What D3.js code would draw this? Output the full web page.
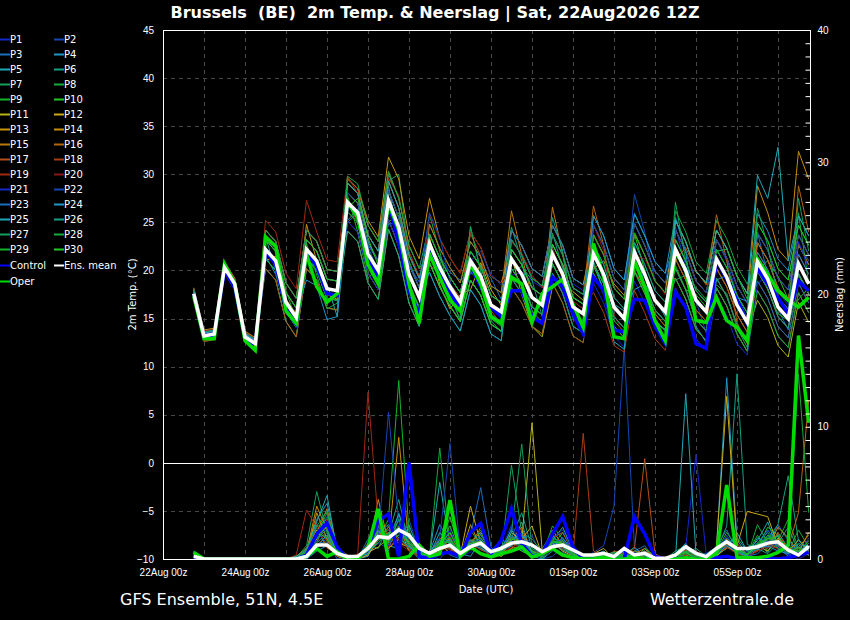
<!DOCTYPE html>
<html lang="nl">
<meta charset="utf-8">
<style>
body { margin: 0; background: #000; }
svg { display: block; background: #000; font-family: "DejaVu Sans", sans-serif; }
.grid line { stroke: #484848; stroke-width: 1px; stroke-dasharray: 4,4; }
.axis text { fill: #fff; font-size: 10px; }
.axis path { display: none; }
.axis line { stroke: #fff; }
.legend text { fill: #fff; font-size: 10px; }
</style>
<body>
<div id="chart"></div>
<script src="https://d3js.org/d3.v7.min.js"></script>
<script>
"use strict";

// ---- data ----
const firstTime = new Date(Date.UTC(2026, 7, 22, 18)); // first valid time, 6-hourly steps
const memberNames = d3.range(1, 31).map(n => "P" + n);

const meanTemp = [17.6,13.2,13.4,20.3,18.6,13.1,12.4,22.2,21.0,16.7,15.1,22.2,21.0,18.1,17.9,27.1,26.0,21.7,20.0,27.3,24.5,19.6,17.2,22.8,20.3,18.3,16.7,21.0,19.4,16.4,15.7,21.2,19.6,17.2,16.4,21.7,19.6,16.2,15.5,21.7,19.6,16.2,15.0,21.9,19.6,16.9,15.7,22.2,20.0,16.9,15.7,21.2,19.3,16.4,14.6,20.9,19.1,16.2,15.0,20.7,18.6];
const ctrlTemp = [17.6,13.0,13.2,20.0,18.2,12.9,12.2,22.0,20.6,16.0,14.4,21.8,20.5,17.6,17.4,27.0,25.6,21.2,19.4,27.0,23.0,17.8,15.5,22.5,20.0,17.8,16.0,20.5,18.3,16.2,15.2,17.9,17.9,15.2,14.5,19.3,18.3,15.5,13.4,19.3,17.9,13.8,13.6,17.0,16.9,14.3,12.4,17.7,16.2,12.4,11.9,21.2,19.1,16.9,14.5,20.2,18.6,17.2,15.5,18.9,17.9];
const operTemp = [17.3,12.9,12.9,20.7,18.6,12.7,11.7,23.5,22.5,15.8,14.5,21.7,18.3,16.7,17.6,27.1,25.5,20.6,18.6,27.0,24.2,18.6,14.5,21.7,19.3,16.9,15.8,20.7,18.6,15.2,14.5,19.3,18.6,14.6,17.6,18.3,19.1,16.5,14.1,22.8,19.3,13.1,12.9,21.0,18.3,14.8,12.7,22.1,20.0,14.8,14.6,17.2,14.8,14.1,12.7,21.2,19.6,17.9,16.9,16.2,17.2];

const memberTemp = [
 [17.9,13.5,13.7,20.6,18.9,13.4,12.7,21.2,20.0,15.7,14.1,21.2,20.0,17.1,16.9,28.1,27.0,22.7,21.0,28.3,25.5,20.6,18.2,20.8,18.3,16.3,14.7,19.0,17.4,14.4,13.7,19.5,19.8,18.9,18.2,19.0,19.4,18.6,17.9,18.7,16.6,13.2,12.0,18.9,16.6,13.9,12.7,24.2,22.0,18.9,17.7,23.2,21.3,18.4,16.6,19.9,18.1,15.2,14.0,19.7,17.6],
 [17.3,12.9,13.1,20.0,18.3,12.8,12.1,23.2,22.0,17.7,16.1,23.2,22.0,19.1,18.9,29.1,28.0,23.7,22.0,29.3,26.5,21.6,19.2,23.8,21.3,19.3,17.7,22.0,20.4,17.4,16.7,19.2,17.6,15.2,14.4,19.7,17.6,14.2,13.5,23.7,21.6,18.2,17.0,27.9,24.0,18.9,17.7,24.5,20.5,16.8,13.5,23.2,21.0,17.5,15.0,23.9,22.1,19.2,18.0,23.7,21.6],
 [17.6,13.2,13.4,20.3,18.6,13.1,12.4,20.2,19.0,14.7,13.1,20.2,19.0,16.1,15.9,26.1,25.0,20.7,19.0,26.3,23.5,18.6,16.2,21.0,21.5,19.8,19.0,19.6,20.5,19.2,17.0,24.2,22.6,20.2,19.4,24.7,22.6,19.2,18.5,21.7,19.6,16.2,15.0,21.9,19.6,16.9,15.7,19.2,17.0,13.9,12.7,18.2,16.3,13.4,11.6,24.0,19.5,16.0,13.8,22.8,21.0],
 [18.1,13.7,13.9,20.8,19.1,13.6,12.9,24.2,23.0,18.7,17.1,24.2,23.0,20.1,19.9,25.2,26.4,23.0,21.0,28.8,23.0,18.5,15.8,21.8,19.3,17.3,15.7,20.0,18.4,15.4,14.7,20.2,18.6,16.2,15.4,20.7,18.6,15.2,14.5,25.7,23.6,20.2,19.0,25.9,23.6,20.9,19.7,23.2,21.0,17.9,16.7,22.2,20.3,17.4,15.6,25.9,24.1,21.2,20.0,25.7,23.6],
 [17.1,12.7,12.9,19.8,18.1,12.6,11.9,23.5,20.0,15.5,14.6,21.0,20.4,18.6,15.2,25.1,24.0,19.7,18.0,25.3,22.5,17.6,15.2,22.8,20.3,18.3,16.7,21.0,19.4,16.4,15.7,23.2,21.6,19.2,18.4,23.7,21.6,18.2,17.5,22.5,19.0,16.5,15.8,18.0,18.6,17.0,15.2,25.2,23.0,19.9,18.7,24.2,22.3,19.4,17.6,17.9,16.1,13.2,12.0,17.7,15.6],
 [17.8,13.4,13.6,20.5,18.8,13.3,12.6,23.2,22.0,17.7,16.1,23.2,22.0,19.1,18.9,29.6,28.5,24.7,23.0,30.0,27.5,22.6,20.2,24.8,22.3,20.3,18.7,23.0,21.4,18.4,17.7,24.5,21.0,15.8,14.6,23.9,20.2,15.0,14.0,22.7,20.6,17.2,16.0,22.9,20.6,17.9,16.7,20.2,18.0,14.9,13.7,19.2,17.3,14.4,12.6,22.9,21.1,18.2,17.0,22.7,20.6],
 [17.4,13.0,13.2,20.1,18.4,12.9,12.2,21.2,20.0,15.7,14.1,21.2,20.0,17.1,16.9,29.1,28.0,23.7,22.0,29.3,30.0,21.6,19.2,19.8,17.3,15.3,13.7,18.0,16.4,13.4,12.7,20.2,18.6,16.2,15.4,20.7,18.6,15.2,14.5,24.7,22.6,19.2,18.0,24.9,22.6,19.9,18.7,19.0,19.5,18.2,17.0,18.5,17.6,14.0,12.0,24.9,23.1,20.2,19.0,24.7,22.6],
 [18.0,13.6,13.8,20.7,19.0,13.5,12.8,22.2,21.0,16.7,15.1,22.2,21.0,18.1,17.9,28.1,27.0,22.7,21.0,28.3,25.5,20.6,18.2,25.8,22.0,17.2,15.0,24.5,20.0,15.0,14.2,23.2,21.6,19.2,18.4,23.7,21.6,18.2,17.5,20.7,18.6,15.2,14.0,20.9,18.6,15.9,14.7,26.2,24.0,20.9,19.7,25.2,23.3,20.4,18.6,20.9,19.1,16.2,15.0,26.0,18.6],
 [17.6,13.2,13.4,20.3,18.6,13.1,12.4,23.2,22.0,17.7,16.1,23.2,22.0,19.1,18.9,27.8,24.0,19.2,20.4,25.0,26.0,21.0,18.2,20.8,18.3,16.3,14.7,19.0,17.4,14.4,13.7,18.2,16.6,14.2,13.4,18.7,16.6,13.2,12.5,23.7,21.6,18.2,17.0,23.9,21.6,18.9,17.7,20.2,18.0,14.9,13.7,19.2,17.3,14.4,12.6,20.5,18.0,15.5,14.8,17.0,18.2],
 [17.2,12.8,13.0,19.9,18.2,12.7,12.0,20.2,19.0,14.7,13.1,20.2,19.0,16.1,15.9,27.1,26.0,21.7,20.0,27.3,24.5,19.6,17.2,22.8,20.3,18.3,16.7,21.0,19.4,16.4,15.7,22.2,20.6,18.2,17.4,22.7,20.6,17.2,16.5,20.5,18.0,14.8,13.6,23.8,20.0,14.2,12.9,23.2,21.0,17.9,16.7,22.2,20.3,17.4,15.6,20.0,21.0,19.4,17.0,19.5,17.5],
 [17.9,13.5,13.7,20.6,18.9,13.4,12.7,22.2,21.0,16.7,15.1,22.2,21.0,18.1,17.9,24.1,23.0,18.7,17.0,24.3,21.5,16.6,14.2,23.8,21.3,19.3,17.7,22.0,20.4,17.4,16.7,21.5,17.5,14.2,13.1,18.3,18.9,17.8,16.9,21.7,19.6,16.2,15.0,21.9,19.6,16.9,15.7,21.2,19.0,15.9,14.7,20.2,18.3,15.4,13.6,16.9,15.1,12.2,11.0,16.7,14.6],
 [17.6,13.2,13.4,20.3,18.6,13.1,12.4,24.2,23.0,18.7,17.1,24.2,23.0,20.1,19.9,28.1,27.0,22.7,21.0,28.3,25.5,20.6,18.2,23.5,18.5,16.0,17.5,18.0,20.8,18.0,16.4,24.2,22.6,20.2,19.4,24.7,22.6,19.2,18.5,23.7,21.6,18.2,17.0,23.9,21.6,18.9,17.7,25.2,23.0,19.9,18.7,24.2,22.3,19.4,17.6,22.9,21.1,18.2,17.0,22.7,20.6],
 [18.2,13.8,14.0,20.9,19.2,13.7,13.0,21.0,21.5,17.0,15.5,24.8,21.0,17.5,17.0,29.5,28.5,25.2,23.5,31.8,29.5,23.6,21.2,27.5,23.3,21.3,19.7,24.0,22.4,19.4,18.7,22.2,20.6,18.2,17.4,22.7,20.6,17.2,16.5,19.7,17.6,14.2,13.0,19.9,17.6,14.9,13.7,22.2,20.0,16.9,15.7,21.2,19.3,16.4,14.6,23.9,22.1,19.2,18.0,23.7,21.6],
 [17.3,12.9,13.1,20.0,18.3,12.8,12.1,21.2,20.0,15.7,14.1,21.2,20.0,17.1,16.9,29.1,28.0,23.7,22.0,29.3,26.5,21.6,19.2,22.8,20.3,18.3,16.7,21.0,19.4,16.4,15.7,19.2,17.6,15.2,14.4,19.7,17.6,14.2,13.5,20.2,21.0,18.6,17.4,20.0,18.0,15.5,14.2,24.2,22.0,18.9,17.7,23.2,21.3,18.4,16.6,28.8,26.0,22.2,21.0,32.4,29.5],
 [17.7,13.3,13.5,20.4,18.7,13.2,12.5,22.2,21.0,16.7,15.1,22.2,21.0,18.1,17.9,25.1,24.0,19.7,18.0,25.3,22.5,17.6,15.2,24.8,22.3,20.3,18.7,23.0,21.4,18.4,17.7,26.2,21.6,17.2,16.4,26.6,21.6,16.2,15.5,24.7,22.6,19.2,18.0,24.9,22.6,19.9,18.7,19.2,17.0,13.9,12.7,18.2,16.3,13.4,11.6,19.9,18.1,15.2,14.0,19.7,17.6],
 [17.0,12.6,12.8,19.7,18.0,12.5,11.8,23.2,22.0,17.7,16.1,23.2,22.0,19.1,18.9,27.1,26.0,21.7,20.0,27.3,24.5,19.6,17.2,20.8,18.3,16.3,14.7,19.0,17.4,14.4,13.7,23.2,21.6,19.2,18.4,23.7,21.6,18.2,17.5,26.7,22.6,15.2,14.0,20.9,18.6,15.9,14.7,21.0,22.4,20.0,18.5,25.8,21.0,14.6,12.4,20.9,19.1,16.2,15.0,28.8,24.0],
 [17.8,13.4,13.6,20.5,18.8,13.3,12.6,20.2,19.0,14.7,13.1,20.2,19.0,16.1,15.9,29.6,28.5,24.7,23.0,30.3,27.5,22.6,20.2,20.5,19.8,18.6,17.2,23.8,21.5,15.8,14.5,18.2,16.6,14.2,13.4,18.7,16.6,13.2,12.5,21.7,19.6,16.2,15.0,21.9,19.6,16.9,15.7,21.2,19.0,15.9,14.7,20.2,18.3,15.4,13.6,22.9,21.1,18.2,17.0,22.7,20.6],
 [17.6,13.2,13.4,20.3,18.6,13.1,12.4,24.2,23.0,18.7,17.1,24.2,23.0,20.1,19.9,27.0,25.0,20.4,19.0,29.6,27.8,22.0,19.4,22.8,20.3,18.3,16.7,21.0,19.4,16.4,15.7,22.2,20.6,18.2,17.4,22.7,20.6,17.2,16.5,17.7,15.6,12.2,11.5,17.9,15.6,12.9,11.7,24.2,22.0,18.9,17.7,23.2,21.3,18.4,16.6,18.9,17.1,14.2,13.0,18.7,16.6],
 [18.1,13.7,13.9,20.8,19.1,13.6,12.9,25.2,24.0,19.7,18.1,27.3,24.0,21.1,20.9,29.8,28.0,23.7,22.0,29.3,26.5,21.6,19.2,21.8,19.3,17.3,15.7,20.0,18.4,15.4,14.7,23.0,21.8,19.5,18.2,22.4,19.0,16.8,16.0,23.7,21.6,18.2,17.0,23.9,21.6,18.9,17.7,20.2,18.0,14.9,13.7,19.2,17.3,14.4,12.6,21.9,20.1,17.2,16.0,21.7,19.6],
 [17.1,12.7,12.9,19.8,18.1,12.6,11.9,23.2,22.0,17.7,16.1,23.2,22.0,19.1,18.9,26.1,25.0,20.7,19.0,26.3,23.5,18.6,16.2,25.8,23.3,21.3,19.7,24.0,22.4,19.4,18.7,20.2,18.6,16.2,15.4,20.7,18.6,15.2,14.5,24.8,22.0,15.4,13.2,21.5,21.2,19.0,17.5,22.2,20.0,16.9,15.7,21.2,19.3,16.4,14.6,17.9,16.1,13.2,12.0,17.7,15.6],
 [17.8,13.4,13.6,20.5,18.8,13.3,12.6,21.2,20.0,15.7,14.1,21.2,20.0,17.1,16.9,25.1,24.0,19.7,18.0,25.3,22.5,17.6,15.2,21.8,19.3,17.3,15.7,20.0,18.4,15.4,14.7,23.2,21.6,19.2,18.4,23.7,21.6,18.2,17.5,19.7,17.6,14.2,13.0,19.9,17.6,14.9,13.7,18.2,16.0,12.9,11.7,17.2,15.3,12.4,11.2,18.5,19.8,17.8,16.4,23.0,20.2],
 [17.4,13.0,13.2,20.1,18.4,12.9,12.2,22.2,21.0,16.7,15.1,22.2,21.0,18.1,17.9,28.1,27.0,22.7,21.0,28.3,25.5,20.6,18.2,26.0,23.5,18.8,16.2,21.0,22.0,19.6,18.5,19.2,17.6,15.2,14.4,19.7,17.6,14.2,13.5,24.7,22.6,19.2,18.0,24.9,22.6,19.9,18.7,24.2,22.0,18.9,17.7,23.2,21.3,18.4,16.6,23.9,22.1,19.2,18.0,23.7,21.6],
 [17.6,13.2,13.4,20.3,18.6,13.1,12.4,23.2,22.0,17.7,16.1,23.2,22.0,19.1,18.9,25.0,26.0,22.5,19.8,24.8,25.0,20.5,18.8,22.8,20.3,18.3,16.7,21.0,19.4,16.4,15.7,24.2,22.6,20.2,19.4,24.7,22.6,19.2,18.5,20.7,18.6,15.2,14.0,20.9,18.6,15.9,14.7,22.2,20.0,16.9,15.7,21.2,19.3,16.4,14.6,18.9,17.1,14.2,13.0,18.7,16.6],
 [17.9,13.5,13.7,20.6,18.9,13.4,12.7,21.5,19.6,15.9,15.6,19.0,18.4,14.9,15.2,27.1,26.0,21.7,20.0,27.3,24.5,19.6,17.2,19.8,17.3,15.3,13.7,18.0,16.4,13.4,12.7,22.2,20.6,18.2,17.4,22.7,20.6,17.2,16.5,25.7,23.6,20.2,19.0,25.9,23.6,20.9,19.7,25.5,22.0,14.2,12.5,19.0,19.5,17.2,16.8,21.9,20.1,17.2,16.0,21.7,19.6],
 [17.2,12.8,13.0,19.9,18.2,12.7,12.0,22.2,21.0,16.7,15.1,22.2,21.0,18.1,17.9,29.1,28.0,23.7,22.0,29.3,26.5,21.6,19.2,23.8,21.3,19.3,17.7,22.0,20.4,17.4,16.7,20.2,18.6,16.2,15.4,20.7,18.6,15.2,14.5,21.0,17.8,12.6,11.8,22.5,18.5,14.5,13.9,25.2,23.0,19.9,18.7,24.2,22.3,19.4,17.6,29.9,27.5,32.8,21.0,25.7,23.6],
 [18.0,13.6,13.8,20.7,19.0,13.5,12.8,21.2,20.0,15.7,14.1,21.2,20.0,17.1,16.9,24.1,23.0,18.7,17.0,24.3,21.5,16.6,14.2,20.8,18.3,16.3,14.7,19.0,17.4,14.4,13.7,20.0,20.4,19.0,15.2,25.5,22.0,15.6,13.8,22.7,20.6,17.2,16.0,22.9,20.6,17.9,16.7,20.2,18.0,14.9,13.7,19.2,17.3,14.4,12.6,19.9,18.1,15.2,14.0,19.7,17.6],
 [17.6,13.2,13.4,20.3,18.6,13.1,12.4,24.2,23.0,18.7,17.1,24.2,23.0,20.1,19.9,27.1,26.0,21.7,20.0,27.3,24.5,19.6,17.2,22.0,21.0,17.5,14.8,24.6,19.8,14.8,13.6,19.2,17.6,15.2,14.4,19.7,17.6,14.2,13.5,20.7,18.6,15.2,14.0,20.9,18.6,15.9,14.7,27.1,21.0,17.9,16.7,22.2,20.3,17.4,15.6,26.5,22.5,17.2,15.4,27.5,22.0],
 [17.3,12.9,13.1,20.0,18.3,12.8,12.1,23.0,22.6,17.9,14.8,22.8,19.5,16.0,16.6,29.8,29.0,24.7,23.0,30.3,27.5,22.6,20.2,21.8,19.3,17.3,15.7,20.0,18.4,15.4,14.7,23.2,21.6,19.2,18.4,23.7,21.6,18.2,17.5,21.7,19.6,16.2,15.0,21.9,19.6,16.9,15.7,19.2,17.0,13.9,12.7,18.2,16.3,13.4,11.6,17.9,16.1,13.2,12.0,17.7,15.6],
 [17.7,13.3,13.5,20.4,18.7,13.2,12.5,21.2,20.0,15.7,14.1,21.2,20.0,17.1,16.9,26.1,25.0,20.7,19.0,26.3,23.5,18.6,16.2,23.8,21.3,19.3,17.7,22.0,20.4,17.4,16.7,20.2,18.6,16.2,15.4,20.7,18.6,15.2,14.5,23.7,21.6,18.2,17.0,23.9,21.6,18.9,17.7,20.5,18.0,17.5,16.2,22.0,22.2,19.5,17.0,20.9,19.1,16.2,15.0,20.7,18.6],
 [17.5,13.1,13.3,20.2,18.5,13.0,12.3,23.2,22.0,17.7,16.1,23.2,22.0,19.1,18.9,26.5,27.5,23.4,20.5,27.0,24.0,18.8,16.0,20.8,18.3,16.3,14.7,19.0,17.4,14.4,13.7,22.2,20.6,18.2,17.4,22.7,20.6,17.2,16.5,19.7,17.6,14.2,13.0,19.9,17.6,14.9,13.7,22.2,20.0,16.9,15.7,21.2,19.3,16.4,14.6,24.9,23.1,20.2,19.0,24.7,22.6]
];

const meanRain = [0.2,0,0,0,0,0,0,0,0,0,0,0.2,1.05,1.05,0.43,0.18,0.2,0.8,1.7,1.6,2.2,1.8,0.8,0.43,0.8,1.05,0.43,0.93,1.2,0.55,0.8,1.2,1.3,1.05,0.55,0.93,1.05,0.68,0.3,0.3,0.43,0.18,0.8,0.3,0.43,0.05,0.05,0.3,0.93,0.43,0.18,0.8,1.3,0.8,0.8,0.93,1.2,1.3,0.68,0.3,0.93];
const ctrlRain = [0.1,0,0,0,0,0,0,0,0,0,0,0.3,1.9,2.7,0.9,0,0,0.9,2.9,3.4,0.2,7.3,0.2,0,0.4,0.5,0.2,2.0,2.7,0.4,1.4,3.8,1.2,0.2,0.4,1.9,3.2,0.9,0,0,0,0,0,3.2,1.9,0.2,0,0,0.1,0,0,0.1,0.2,0,0,0.1,0.1,0,0.1,0.3,0.5];
const operRain = [0.5,0,0,0,0,0,0,0,0,0,0,0.2,0.8,0.2,0.55,0,0,0.9,3.8,0,0,0.2,1.05,0.2,0.4,4.45,0.2,0.9,0.4,0.15,0.4,0.6,0.9,0.15,0.4,0.8,0.3,0.1,0,0,0.1,0,0,0.1,0,0,0,0,0.1,0,0,0.4,5.6,0.15,0.1,0.1,0.2,0.5,1.05,16.9,10.3];

const memberRain = [
 [0.3,0,0,0,0,0,0,0,0,0,0,0.2,1.5,2.8,0.5,0,0,0.4,1.2,0.8,2.5,1.0,0.3,0,0.6,1.8,0.2,0.5,2.0,0.3,0.6,1.4,2.2,0.5,0.2,1.1,1.6,0.4,0,0,0.3,0,0,0,0.5,0,0,0,0.8,0.2,0,0.6,1.2,0.4,0.3,0.8,2.1,1.5,0.3,0,0.4],
 [0.1,0,0,0,0,0,0,0,0,0,0,0,0.8,1.6,0.2,0,0.3,0.9,2.1,1.5,1.2,3.0,0.5,0.2,0,0.9,0.3,1.1,0.8,0.2,0.4,2.4,0.6,1.8,0,0.2,0.9,0.3,0,0.5,1.0,4.0,16.0,0.8,0.2,0,0,0.1,0.4,0,0,0.2,0.9,0.4,0.6,1.2,0.5,2.0,0.9,0.2,1.6],
 [0.4,0,0,0,0,0,0,0,0,0,0.1,0.5,2.0,1.2,0,0,0,1.5,2.5,0.6,3.5,1.4,0.2,0.4,1.5,0.3,0,1.8,5.4,0.9,0.2,1.8,0.6,0.3,0.8,2.0,0.5,0.1,0,0.2,0,0.4,0,0.6,1.0,0,0,0.3,0.2,0,0,1.0,2.2,0.6,0.2,0.4,1.1,2.6,1.4,0.5,0.3],
 [0,0,0,0,0,0,0,0,0,0,0,0,0.6,1.0,0.3,0,0,0.2,1.8,2.2,1.6,0.8,0,0.5,2.6,1.2,0.4,0.2,1.4,0.6,1.5,0.9,2.8,0.2,0,0.6,1.3,0.8,0,0,0,0.2,0,0,0.5,0.1,0,0,0.6,0.3,0.4,0.9,13.7,1.5,0.2,0.6,1.8,0.9,0.2,0.4,1.2],
 [0.6,0,0,0,0,0,0,0,0,0,0.2,0.8,3.0,4.2,0.8,0,0,0.6,2.0,1.0,0.8,2.6,0.4,0.2,5.8,1.0,0.3,0.7,1.6,0.4,0.8,2.2,1.0,0.5,0.2,1.4,2.4,0.6,0.2,0,0.2,0,0.3,0.9,0.2,0,0,0.4,1.2,0,0,0.3,0.8,2.0,0.6,1.4,2.8,0.7,0.4,1.5,0.6],
 [0.2,0,0,0,0,0,0,0,0,0,0,0.3,1.2,2.0,0.4,0.2,0,0.3,3.2,1.8,4.5,1.1,0.3,0,1.0,2.0,0.6,1.5,0.9,0.2,1.0,1.6,3.5,0.8,0,0.9,1.2,0.4,0,0.3,0.6,0,0,0.2,0.4,0,0,0,0.5,0.8,0.2,0.6,2.5,14.0,1.1,0.8,0.4,1.2,2.4,0.6,0.3],
 [0.5,0,0,0,0,0,0,0,0,0,0.1,1.0,5.1,2.0,0.4,0,0.2,1.1,0.8,2.5,2.0,0.6,0.2,0.3,0.8,1.5,0.2,2.2,1.0,0.5,0.3,7.1,2.0,1.5,0.6,1.8,0.9,0.3,0,0.1,0,0.3,0.5,0,0.8,0.2,0,0.6,1.0,0.2,0,0.5,1.6,0.8,0.3,1.2,0.5,2.0,0.8,1.1,0.4],
 [0.3,0,0,0,0,0,0,0,0,0,0,0.4,2.4,3.0,0.2,0,0,0.6,2.8,1.0,3.0,0.8,0.5,0.2,8.4,1.0,0.3,0.9,1.8,0.6,0.5,1.2,0.8,0.4,0.3,2.5,1.5,0.2,0,0,0.2,0.5,0,0.3,0.6,0,0,0.2,0.9,0.4,0,0.8,1.0,0.5,0.2,2.6,1.2,0.8,0.5,2.2,0.9],
 [0.4,0,0,0,0,0,0,0,0,0,0.2,0.6,1.8,3.5,0.6,0,0,0.8,1.5,3.0,13.5,2.0,0.6,0.4,1.2,2.5,0.4,1.0,0.8,0.3,0.6,1.8,1.2,0.5,0.1,1.0,2.0,0.6,0.2,0,0,0.4,0.8,0,0.3,0,0,0.3,0.6,0,0.3,0.6,2.0,0.9,0.4,1.8,0.6,1.4,3.0,0.8,0.5],
 [0.5,0,0,0,0,0,0,0,0,0,0,0.2,0.9,1.4,0.3,0,0.2,0.4,2.2,1.2,1.8,1.4,0.3,0,0.9,3.2,0.5,0.7,1.5,0.4,0.9,1.0,0.6,0.2,0.6,1.5,0.8,0.4,0,0,0,0.2,0.4,0,0.8,0.2,0,0,0.4,0.6,0,0.4,1.1,0.6,0.2,0.9,2.4,1.8,0.6,0.3,1.4],
 [0.2,0,0,0,0,0,0,0,0,0,0,0.4,1.5,2.6,0.8,0.3,0,0.5,0.9,1.6,2.5,0.6,0.2,0.6,1.4,0.8,0.2,1.3,2.0,0.6,0.4,2.0,1.4,10.3,0.6,0.8,1.0,0.2,0,0.4,0.8,0,0,0.2,0.5,0,0,0,0.3,0,0,0.2,0.9,0.5,0.3,1.0,0.6,1.6,0.8,0.4,0.6],
 [0.3,0,0,0,0,0,0,0,0,0,0.1,0.6,2.2,1.0,0.2,0,0,0.3,1.4,2.0,1.2,0.9,0.5,0.2,0.6,1.0,0.3,4.0,1.2,0.5,0.2,0.8,1.5,2.5,0.3,1.2,0.6,0.2,0,0,0.3,0.5,0,0,0.2,0,0,0.2,0.6,0.4,0.2,0.9,12.3,1.0,3.6,3.4,3.2,1.0,0.4,0.8,0.3],
 [0.4,0,0,0,0,0,0,0,0,0,0,0.3,3.5,1.5,0.4,0,0,0.9,2.2,0.8,1.5,1.8,0.4,0.2,1.2,0.4,0.2,2.6,0.9,0.3,0.6,1.4,0.8,0.4,0.2,2.2,1.0,0.4,0,0,0,0.2,0.3,0.6,0.4,0,0,0,0.7,0.2,0,0.3,1.5,0.6,0.4,1.1,0.9,2.4,1.6,0.5,2.0],
 [0.2,0,0,0,0,0,0,0,0,0,0,0.5,4.0,2.2,0.5,0,0,0.6,4.5,1.2,9.2,1.0,0.3,0.4,0.8,1.6,0.3,0.8,1.4,0.2,0.4,1.2,1.8,0.6,0.2,0.9,1.4,0.3,0,0.2,0.4,0,0,0.3,0.6,0.2,0,0,0.4,0,0,0.5,1.4,0.8,0.3,0.7,1.6,1.1,0.6,1.4,0.6],
 [0.3,0,0,0,0,0,0,0,0,0,0.2,0.8,2.0,3.8,0.6,0,0,1.2,2.6,1.0,2.2,1.6,0.5,0.3,1.0,1.4,0.4,1.0,2.4,0.6,0.8,1.5,2.4,0.4,0.3,1.2,0.8,0.2,0,0,0.2,0.3,0,0.4,0.8,0,0,0.2,0.5,0,0,0.6,1.0,0.4,0.2,0.9,1.4,0.8,0.5,0.9,1.8],
 [0.1,0,0,0,0,0,0,0,0,0,0,0.3,1.0,1.8,0.2,0,0.2,0.5,1.6,2.4,1.4,0.8,0.2,0.5,1.6,0.9,0.3,1.2,0.7,0.4,0.5,0.8,1.0,0.6,0.4,1.6,2.0,0.5,0,0,0,0.6,0.4,0,0.3,0,0,0.3,0.6,0.2,0,0.4,0.8,1.2,0.3,0.6,1.0,1.5,0.9,3.5,12.0],
 [0.4,0,0,0,0,0,0,0,0,0,0.1,0.6,2.6,1.4,0.3,0,0,0.8,1.8,1.5,2.4,1.2,0.3,0.2,1.0,0.8,0.5,1.4,1.1,0.3,0.6,1.6,0.9,0.3,0.2,1.0,1.2,0.6,0,0.4,0.3,0,0.2,0.8,7.6,0.4,0,0,0.5,0.3,0,0.5,1.3,0.7,0.4,1.0,0.8,2.0,0.7,0.5,0.9],
 [0.2,0,0,0,0,0,0,0,0,0,0,0.9,1.6,0.8,0.4,0,0,0.5,2.0,1.2,1.8,1.2,0.4,0.3,0.8,1.2,0.2,0.9,1.6,0.5,0.3,1.0,1.6,0.5,0.2,1.4,0.7,0.3,9.5,0.6,0.2,0,0,0.4,0.3,0,0,0,0.6,0.2,0,0.3,1.1,0.5,0.3,0.8,1.2,0.9,0.5,0.6,0.4],
 [0.5,0,0,0,0,0,0,0,0,0,0.3,3.7,2.4,1.0,0.3,0,0.4,12.6,2.8,0.9,1.6,0.8,0.3,0.5,1.1,0.7,0.3,1.0,0.8,0.3,0.5,1.2,0.8,0.3,0.2,0.8,1.1,0.4,0,0,0,0.3,0,0.2,0.5,0,0,0,0.3,0.6,0.2,0.4,0.9,0.4,0.2,0.6,1.0,0.8,0.6,0.3,0.5],
 [0.1,0,0,0,0,0,0,0,0,0,0,0.4,1.2,3.0,0.5,0,0,1.0,1.4,2.2,1.2,0.6,0.2,0.4,0.9,1.8,0.4,0.7,1.2,0.6,0.4,0.9,1.2,0.6,0.3,1.0,0.8,0.2,0,0,0.2,0.4,0,0.3,0.6,0,0,0.2,0.4,0,0,0.6,1.2,0.5,0.2,0.9,1.6,1.2,0.4,0.8,0.5],
 [0.3,0,0,0,0,0,0,0,0,0,0,0.2,1.4,2.4,0.6,0,0,0.5,1.8,1.0,2.6,1.4,0.5,0.2,1.2,2.2,0.3,1.1,1.5,0.4,0.7,2.6,1.0,0.4,0.3,1.5,2.2,0.5,0,0,0,0.2,0.6,0,0.4,0,0,0,0.9,7.9,0.3,0.5,1.0,0.6,0.2,0.8,1.4,0.9,0.3,0.5,0.8],
 [0.2,0,0,0,0,0,0,0,0,0,0.1,0.5,2.0,1.2,0.3,0,0,0.8,1.5,11.1,2.8,0.9,0.3,0.5,1.6,8.75,0.6,1.3,0.9,0.5,0.5,1.4,0.8,0.3,0.2,1.1,1.5,0.2,0,0,0.3,0,0.2,0.5,0.2,0,0,0,0.6,0.3,0,0.4,1.8,0.6,0.3,1.0,0.9,1.3,0.6,0.4,1.0],
 [0.4,0,0,0,0,0,0,0,0,0,0,0.6,1.8,3.2,0.4,0,0,0.7,2.4,1.6,2.0,1.2,0.4,0.3,1.4,1.2,0.4,0.8,1.9,0.6,0.8,1.8,1.3,0.5,0.2,1.3,1.0,0.3,0,0.2,0.5,0.3,0,0,0.4,0,0,0.3,0.5,0,0,0.7,1.6,0.8,0.4,1.2,2.2,1.0,0.4,0.6,0.5],
 [0.2,0,0,0,0,0,0,0,0,0,0,0.3,0.9,1.8,0.3,0,0.2,0.4,2.0,2.6,1.6,0.9,0.3,0.2,0.8,1.5,0.3,1.2,0.8,0.4,0.6,1.0,1.8,0.5,0.3,0.9,1.6,0.6,0.2,0,0.2,0.3,0.8,0.2,0.6,0,0,0.4,0.8,0.3,0,0.5,1.2,0.6,0.3,0.8,1.0,0.6,0.4,1.2,0.7],
 [0.6,0,0,0,0,0,0,0,0,0,0.2,0.7,2.8,4.8,0.6,0,0,0.9,1.6,1.4,3.4,1.0,0.5,0.3,2.0,1.1,0.4,0.8,1.4,0.3,0.5,1.4,2.0,0.6,0.2,1.2,0.7,0.3,0,0,0.4,0,0,0.2,0.5,0,0,0,12.5,0.4,0,0.3,1.0,0.5,0.2,1.6,1.2,1.8,0.5,0.9,0.6],
 [0.3,0,0,0,0,0,0,0,0,0,0,0.4,1.6,2.2,0.5,0,0,0.6,1.2,2.0,2.2,1.6,0.6,0.2,1.0,0.9,0.3,1.4,1.0,0.5,0.6,1.2,1.4,0.5,0.2,1.8,0.9,0.2,0,0,0.3,0.5,0,0.4,0.2,0,0,0.2,0.6,0,0,0.6,1.2,1.6,0.6,1.0,1.5,2.6,6.3,1.4,0.8],
 [0.4,0,0,0,0,0,0,0,0,0,0.1,0.8,2.5,3.6,0.4,0,0,1.0,1.8,1.2,3.0,2.2,0.3,0.4,1.2,1.4,0.5,0.9,2.2,0.7,0.9,2.0,8.7,0.8,0.4,1.6,1.1,0.5,0,0.3,0.2,0,0.4,0,0.5,0,0,0,0.4,0.2,0,0.5,1.3,0.7,0.3,1.2,2.0,0.8,0.5,0.6,0.4],
 [0.2,0,0,0,0,0,0,0,0,0,0,0.5,1.3,2.8,0.5,0,0.2,0.6,1.4,1.9,2.4,1.0,0.4,0.3,1.3,1.6,0.3,1.0,1.6,0.4,0.4,1.6,1.2,0.4,0.3,1.2,1.4,0.4,0,0,0.2,0.4,0,0.6,0.3,0,0,0.3,0.5,0,0,0.4,1.2,0.6,0.4,1.0,1.6,1.2,0.8,14.0,3.5],
 [0.5,0,0,0,0,0,0,0,0,0,0.1,0.6,2.0,1.6,0.3,0,0,0.8,2.2,1.4,1.8,1.4,0.5,0.2,1.1,1.3,0.4,1.0,1.2,0.3,0.7,1.3,1.0,0.5,0.2,1.4,1.0,0.3,0,0,0,0.2,0.3,0,0.4,0.2,0,0,0.6,0.3,0,0.6,1.4,0.7,0.3,0.9,1.8,1.4,0.6,0.8,0.5],
 [0.4,0,0,0,0,0,0,0,0,0,0,0.4,1.8,2.4,0.4,0,0,0.7,1.6,1.8,2.2,1.2,0.4,0.3,1.2,2.0,0.4,1.2,1.3,0.5,0.6,1.5,1.3,0.6,0.3,1.3,1.2,0.4,0,0.2,0.3,0,0.2,0.3,0.5,0,0,0.2,0.5,0,0,0.5,1.3,0.8,0.3,1.1,1.5,1.7,0.7,0.6,0.8]
];

// colour cycle of the member lines (P21..P30 reuse P1..P10)
const memberColors = ["#1428c8","#1446b4","#1a6ebe","#1e96c8","#1eaab4","#14a082","#14a05a","#14aa3c","#14b428","#1ec81e",
                      "#b4b414","#c8aa14","#c8960a","#c88c0a","#be780f","#b4640f","#b4501a","#aa3c14","#a02814","#8c1414"];

// ---- layout ----
const W = 850, H = 620;
const plot = {left: 163, right: 810, top: 30, bottom: 559};

const svg = d3.select("#chart").append("svg")
    .attr("width", W)
    .attr("height", H);

const times = meanTemp.map((d, i) => d3.utcHour.offset(firstTime, 6 * i));
const xStart = new Date(Date.UTC(2026, 7, 22, 0));
const xEnd = new Date(Date.UTC(2026, 8, 6, 18, 45));

const x = d3.scaleUtc().domain([xStart, xEnd]).range([plot.left, plot.right]);
const yT = d3.scaleLinear().domain([-10, 45]).range([plot.bottom, plot.top]);
const yR = d3.scaleLinear().domain([0, 40]).range([plot.bottom, plot.top]);

svg.append("defs").append("clipPath").attr("id", "clip")
  .append("rect")
    .attr("x", plot.left).attr("y", plot.top)
    .attr("width", plot.right - plot.left).attr("height", plot.bottom - plot.top);

// grid
const grid = svg.append("g").attr("class", "grid");
grid.selectAll(".vg")
  .data(d3.utcDay.range(d3.utcDay.offset(xStart, 1), xEnd))
  .join("line")
    .attr("x1", d => Math.round(x(d)) + 0.5).attr("x2", d => Math.round(x(d)) + 0.5)
    .attr("y1", plot.top).attr("y2", plot.bottom);
grid.selectAll(".hg")
  .data(d3.range(-5, 45, 5).filter(v => v !== 0))
  .join("line")
    .attr("x1", plot.left).attr("x2", plot.right)
    .attr("y1", d => Math.round(yT(d)) + 0.5).attr("y2", d => Math.round(yT(d)) + 0.5);

// zero line
svg.append("line")
    .attr("x1", plot.left).attr("x2", plot.right)
    .attr("y1", Math.round(yT(0)) + 0.5).attr("y2", Math.round(yT(0)) + 0.5)
    .attr("stroke", "#fff").attr("stroke-width", 1.2);

// lines
const lines = svg.append("g").attr("clip-path", "url(#clip)");
const tempLine = d3.line().x((d, i) => x(times[i])).y(d => yT(d));
const rainLine = d3.line().x((d, i) => x(times[i])).y(d => yR(d));

memberRain.forEach((s, k) => {
  lines.append("path").datum(s)
    .attr("d", rainLine)
    .attr("fill", "none").attr("stroke", memberColors[k % 20]).attr("stroke-width", 1);
});
memberTemp.forEach((s, k) => {
  lines.append("path").datum(s)
    .attr("d", tempLine)
    .attr("fill", "none").attr("stroke", memberColors[k % 20]).attr("stroke-width", 1);
});

const thick = [
  {temp: ctrlTemp, rain: ctrlRain, color: "#0000ff"},
  {temp: operTemp, rain: operRain, color: "#00dc00"},
  {temp: meanTemp, rain: meanRain, color: "#ffffff"}
];
thick.forEach(s => {
  lines.append("path").datum(s.rain)
    .attr("d", rainLine)
    .attr("fill", "none").attr("stroke", s.color).attr("stroke-width", 3.5)
    .attr("stroke-linejoin", "miter");
  lines.append("path").datum(s.temp)
    .attr("d", tempLine)
    .attr("fill", "none").attr("stroke", s.color).attr("stroke-width", 3.5)
    .attr("stroke-linejoin", "miter");
});

// frame
svg.append("rect")
    .attr("x", plot.left + 0.5).attr("y", plot.top + 0.5)
    .attr("width", plot.right - plot.left).attr("height", plot.bottom - plot.top)
    .attr("fill", "none").attr("stroke", "#fff").attr("stroke-width", 1);

// axes
svg.append("g").attr("class", "axis")
    .attr("transform", `translate(${plot.left},0)`)
    .call(d3.axisLeft(yT).tickValues(d3.range(-10, 46, 5)).tickSize(0).tickPadding(9));

svg.append("g").attr("class", "axis")
    .attr("transform", `translate(${plot.right + 0.5},0)`)
    .call(d3.axisRight(yR).tickValues(d3.range(0, 41, 1)).tickSizeInner(-5).tickSizeOuter(0).tickPadding(7)
      .tickFormat(d => d % 10 === 0 ? d : ""));

svg.append("g").attr("class", "axis")
    .attr("transform", `translate(0,${plot.bottom})`)
    .call(d3.axisBottom(x).tickValues(d3.utcDay.range(xStart, xEnd, 2)).tickSize(0).tickPadding(10)
      .tickFormat(d3.utcFormat("%d%b %Hz")));

// axis titles
svg.append("text")
    .attr("transform", `translate(136,${(plot.top + plot.bottom) / 2}) rotate(-90)`)
    .attr("text-anchor", "middle").attr("fill", "#fff").style("font-size", "10px")
    .text("2m Temp. (°C)");
svg.append("text")
    .attr("transform", `translate(843,${(plot.top + plot.bottom) / 2}) rotate(-90)`)
    .attr("text-anchor", "middle").attr("fill", "#fff").style("font-size", "10px")
    .text("Neerslag (mm)");
svg.append("text")
    .attr("x", 486).attr("y", 593)
    .attr("text-anchor", "middle").attr("fill", "#fff").style("font-size", "10px")
    .text("Date (UTC)");

// title and footers
svg.append("text")
    .attr("x", 435).attr("y", 18)
    .attr("text-anchor", "middle").attr("fill", "#fff")
    .style("font-size", "16px").style("font-weight", "bold").style("white-space", "pre")
    .text("Brussels  (BE)  2m Temp. & Neerslag | Sat, 22Aug2026 12Z");
svg.append("text")
    .attr("x", 120).attr("y", 605).attr("fill", "#fff").style("font-size", "16px")
    .text("GFS Ensemble, 51N, 4.5E");
svg.append("text")
    .attr("x", 794).attr("y", 605).attr("text-anchor", "end").attr("fill", "#fff").style("font-size", "16px")
    .text("Wetterzentrale.de");

// legend
const legendItems = memberNames.map((n, k) => ({name: n, color: memberColors[k % 20], col: k % 2, y: 39 + Math.floor(k / 2) * 15}))
  .concat([
    {name: "Control", color: "#0000ff", col: 0, y: 265},
    {name: "Ens. mean", color: "#ffffff", col: 1, y: 265},
    {name: "Oper", color: "#00dc00", col: 0, y: 281}
  ]);
const legend = svg.append("g").attr("class", "legend");
const li = legend.selectAll("g").data(legendItems).join("g")
    .attr("transform", d => `translate(${d.col * 54},${d.y})`);
li.append("line")
    .attr("x1", 0).attr("x2", 10).attr("y1", 0.5).attr("y2", 0.5)
    .attr("stroke", d => d.color).attr("stroke-width", 2);
li.append("text")
    .attr("x", 10).attr("y", 4)
    .text(d => d.name);
</script>
</body>
</html>
